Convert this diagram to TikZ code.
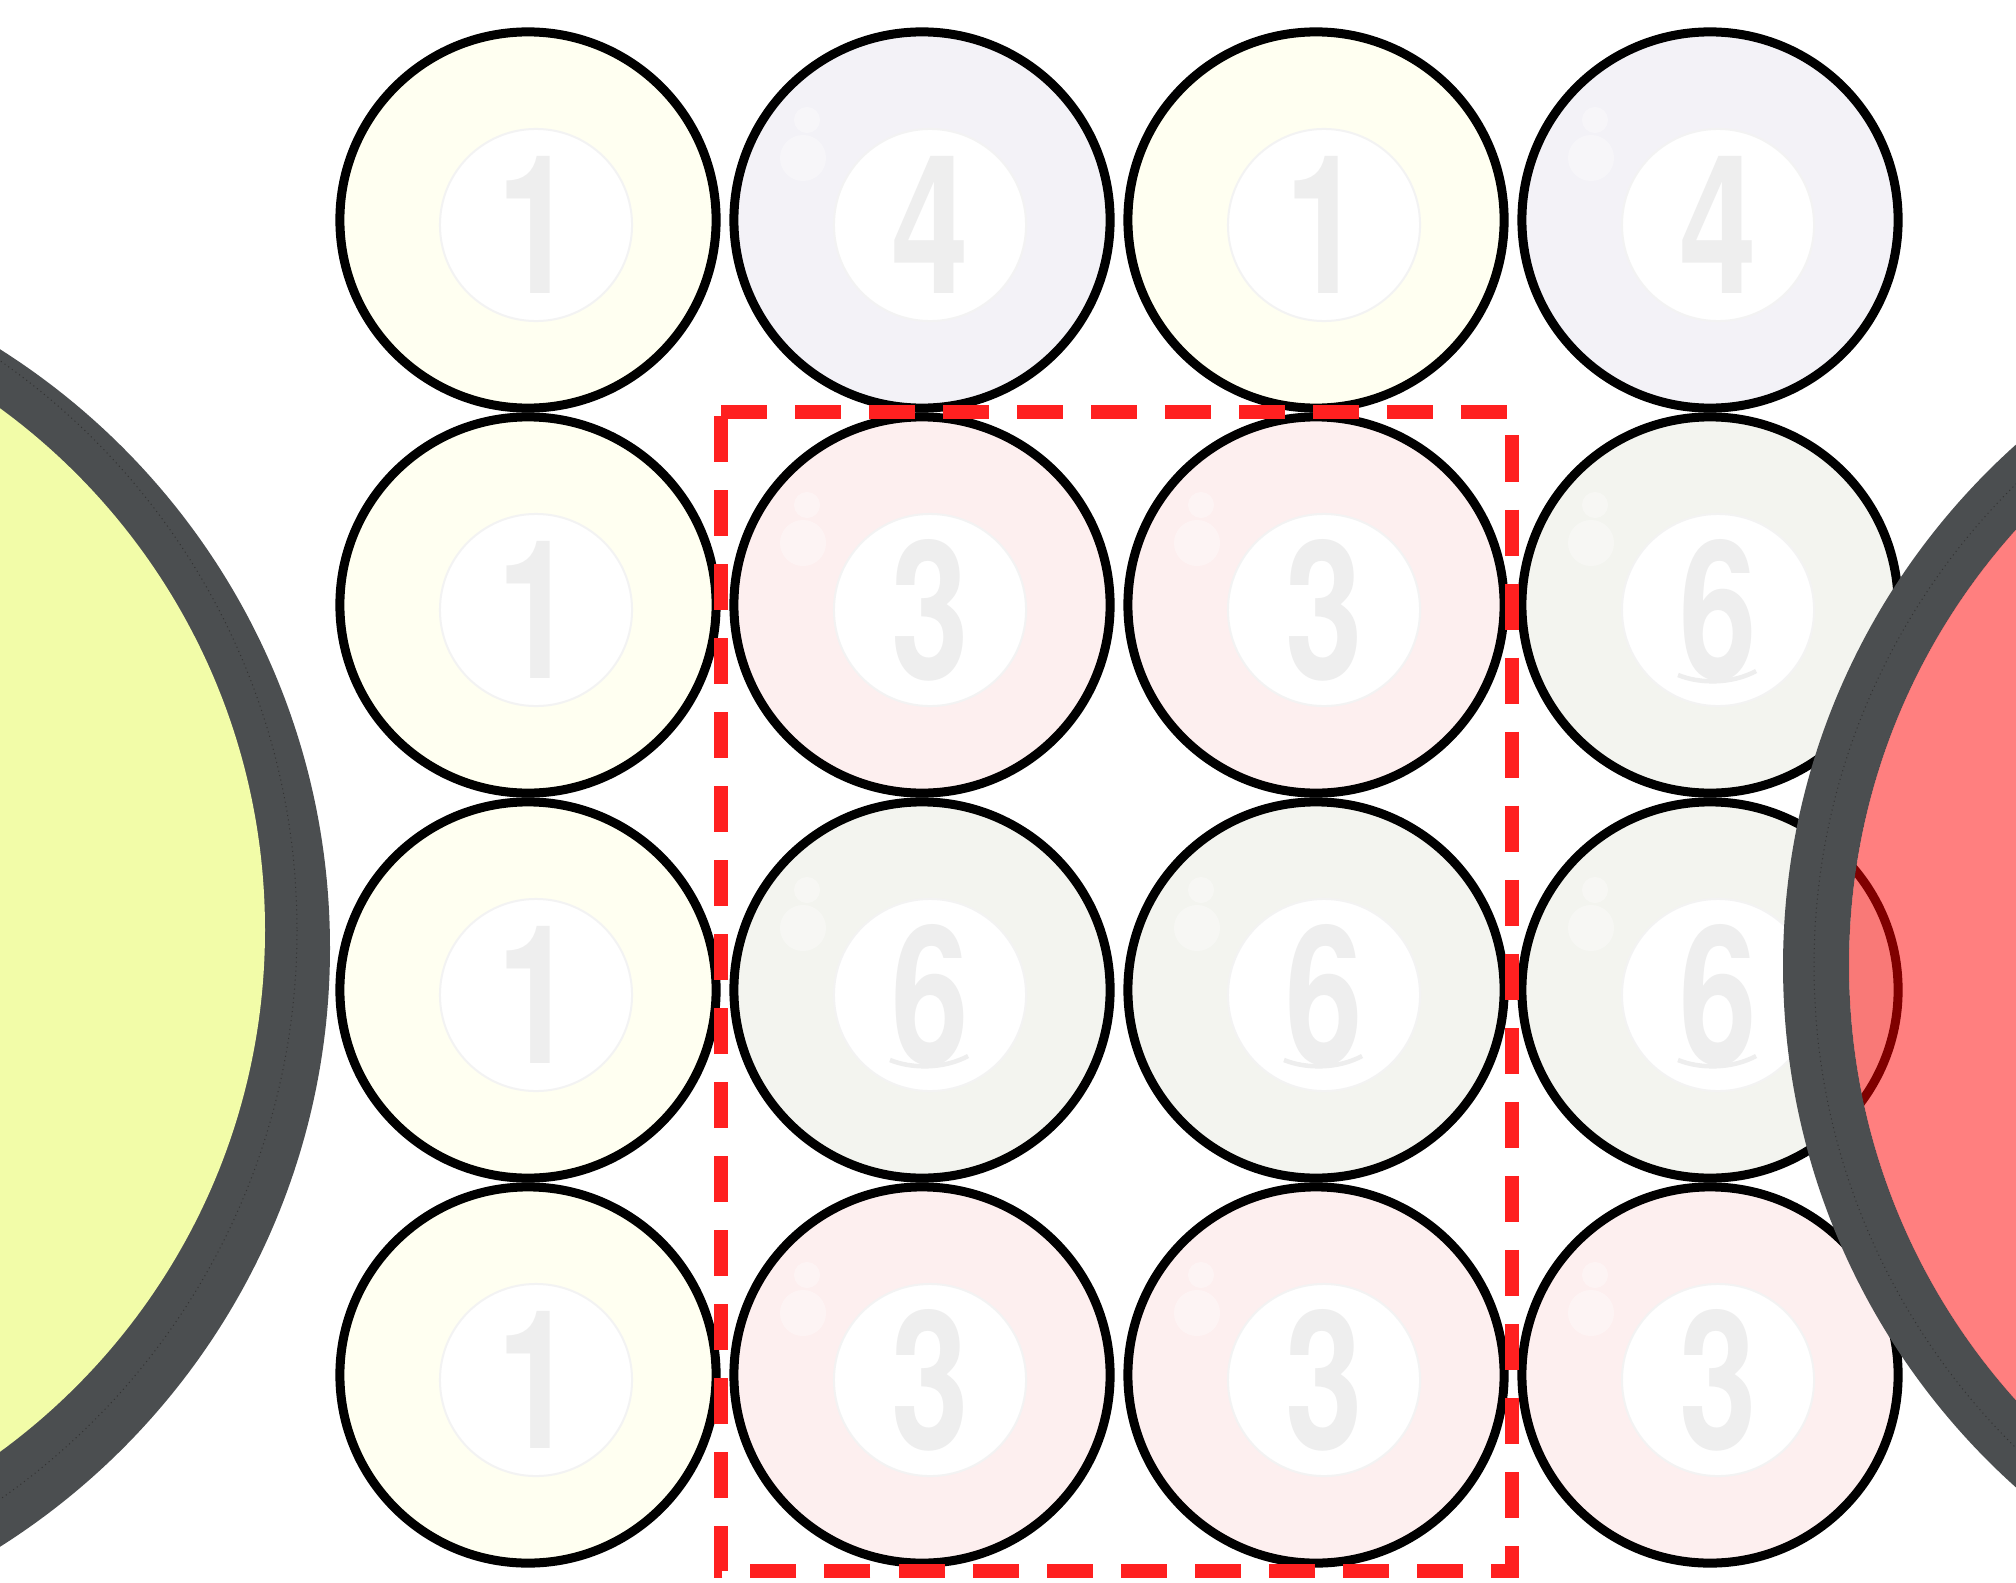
\documentclass[tikz,border=0pt]{standalone}
\usepackage{fontspec}
\setmainfont{TeX Gyre Heros}
\usepackage{graphicx}

\definecolor{ball1}{HTML}{FFFFF1}
\definecolor{ball3}{HTML}{FDEFEF}
\definecolor{ball4}{HTML}{F3F2F7}
\definecolor{ball6}{HTML}{F3F4EF}
\definecolor{numgray}{HTML}{EEEEEE}
\definecolor{ringgray}{HTML}{4B4E50}
\definecolor{padyellow}{HTML}{F2FCA8}
\definecolor{boxred}{HTML}{FF2020}

\tikzset{
  ball/.style={circle, draw=black, line width=0.09cm, minimum size=3.76cm, inner sep=0pt},
  disk/.style={circle, draw=numgray!70, fill=white, line width=0.02cm, minimum size=1.92cm, inner sep=0pt},
  numlabel/.style={text=numgray, inner sep=0pt, font=\fontsize{55}{55}\selectfont\bfseries},
  shine/.style={white, opacity=0.35}
}

\begin{document}
\begin{tikzpicture}[x=0.01cm, y=-0.01cm]
    \useasboundingbox (0,0) rectangle (2016,1582);
    \clip (0,0) rectangle (2016,1582);

    % Balls
    \foreach \row/\nums in {0/{1,4,1,4}, 1/{1,3,3,6}, 2/{1,6,6,6}, 3/{1,3,3,3}} {
        \foreach \n [count=\c from 0] in \nums {
            \pgfmathsetmacro\bx{528+394*\c}
            \pgfmathsetmacro\by{220+385*\row}
            \node[ball, fill=ball\n] (b\row\c) at (\bx,\by) {};
            \node[disk] (d\row\c) at (\bx+8,\by+5) {};
            \node[numlabel] (n\row\c) at (\bx+8,\by+5) {\scalebox{0.72}[1]{\n}};
            \ifnum\n=1\else
                \fill[shine] (\bx-115,\by-100) circle (13);
                \fill[shine] (\bx-119,\by-62) circle (23);
            \fi
            \ifnum\n=6
                \draw[numgray, line width=0.045cm] (\bx-32,\by+70) .. controls (\bx-10,\by+79) and (\bx+22,\by+79) .. (\bx+46,\by+66);
            \fi
        }
    }

    % Selection box
    \draw[boxred, line width=0.14cm, dash pattern=on 0.46cm off 0.28cm]
        (721,412) -- (1512,412) -- (1512,1571) -- (721,1571) -- cycle;

    % Left pocket
    \fill[ringgray] (-378,948) circle (708);
    \draw[black!80, densely dotted, line width=0.01cm] (-397,930) circle (694);
    \fill[padyellow] (-381,930) circle (646);

    % Right pocket
    \fill[ringgray, even odd rule] (2483,966) circle (700) (2500,965) circle (651);
    \draw[black!80, densely dotted, line width=0.01cm] (2490,966) circle (676);
    \fill[red, opacity=0.5] (2500,965) circle (651);
\end{tikzpicture}
\end{document}
